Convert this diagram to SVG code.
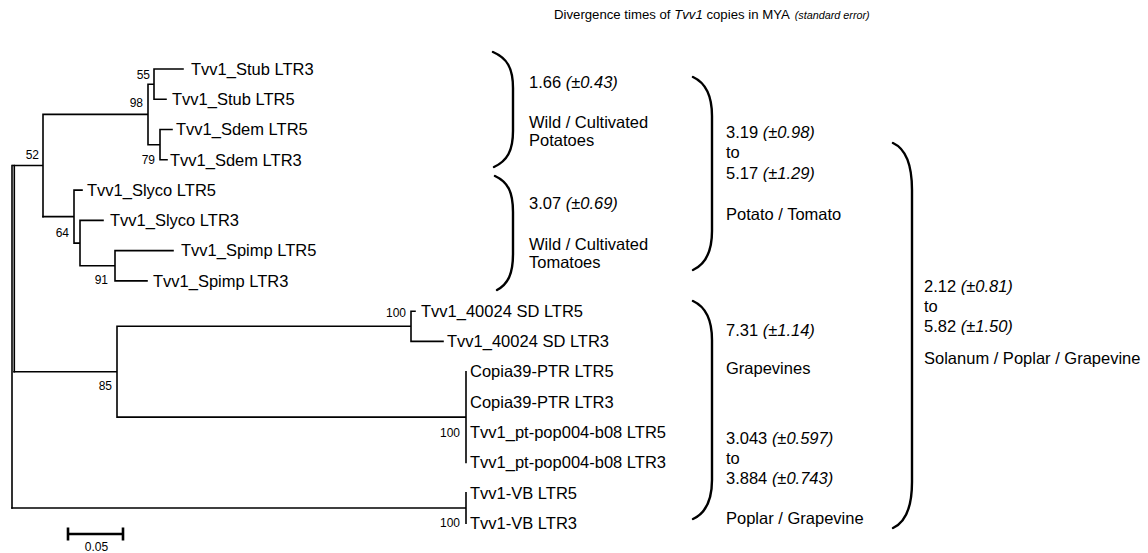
<svg xmlns="http://www.w3.org/2000/svg" width="1148" height="553" viewBox="0 0 1148 553">
<style>
text{font-family:"Liberation Sans",Arial,Helvetica,sans-serif;fill:#000}
.leaf{font-size:16.5px}
.bs{font-size:12px;text-anchor:end}
.r{font-size:16.5px}
.i{font-style:italic}
.br{fill:none;stroke:#000;stroke-width:2.4;stroke-linecap:round}
.e{fill:none;stroke:#000;stroke-width:1.6;stroke-linecap:square}
</style>
<rect width="1148" height="553" fill="#fff"/>
<g id="title">
<text x="554" y="19" style="font-size:13.2px">Divergence times of <tspan class="i">Tvv1</tspan> copies in MYA <tspan class="i" dx="2" style="font-size:10.8px">(standard error)</tspan></text>
</g>
<g id="connectors">
<path class="e" d="M12,165.5V508 M14.3,165.5V371.7"/>
<path class="e" d="M13,165.5H43 M43,114.4V216.6 M43,114.4H148 M148,84.2V144.7 M148,84.2H154 M154,69V99.3 M154,69H183 M154,99.3H166 M148,144.7H160 M160,129.5V159.8 M160,129.5H172 M160,159.8H167"/>
<path class="e" d="M43,216.6H74 M74,190.1V243.1 M74,190.1H82 M74,243.1H80 M80,220.4V265.8 M80,220.4H103 M80,265.8H115 M115,250.6V280.9 M115,250.6H173 M115,280.9H147"/>
<path class="e" d="M14,371.7H117 M117,326.3V417.1 M117,326.3H411 M411,311.2V341.4 M411,311.2H415 M411,341.4H443 M117,417.1H466 M466,371.7V462.5"/>
<path class="e" d="M12,508H466 M466,492.8V523.1"/>
<path d="M68,534H123 M68,527.5V540.5 M123,527.5V540.5" fill="none" stroke="#000" stroke-width="2.6"/>
</g>
<g id="tree-labels">
<text class="leaf" x="191" y="74.8">Tvv1_Stub LTR3</text>
<text class="leaf" x="172" y="105">Tvv1_Stub LTR5</text>
<text class="leaf" x="176" y="135.3">Tvv1_Sdem LTR5</text>
<text class="leaf" x="170" y="165.5">Tvv1_Sdem LTR3</text>
<text class="leaf" x="87" y="195.8">Tvv1_Slyco LTR5</text>
<text class="leaf" x="110" y="226.1">Tvv1_Slyco LTR3</text>
<text class="leaf" x="181" y="256.4">Tvv1_Spimp LTR5</text>
<text class="leaf" x="153" y="286.6">Tvv1_Spimp LTR3</text>
<text class="leaf" x="421" y="316.9">Tvv1_40024 SD LTR5</text>
<text class="leaf" x="447" y="347.1">Tvv1_40024 SD LTR3</text>
<text class="leaf" x="470" y="377.4">Copia39-PTR LTR5</text>
<text class="leaf" x="470" y="407.7">Copia39-PTR LTR3</text>
<text class="leaf" x="470" y="438">Tvv1_pt-pop004-b08 LTR5</text>
<text class="leaf" x="470" y="468.2">Tvv1_pt-pop004-b08 LTR3</text>
<text class="leaf" x="470" y="498.5">Tvv1-VB LTR5</text>
<text class="leaf" x="470" y="528.8">Tvv1-VB LTR3</text>
</g>
<g id="support">
<text class="bs" x="150" y="79">55</text>
<text class="bs" x="143" y="106.5">98</text>
<text class="bs" x="155" y="164">79</text>
<text class="bs" x="39" y="159">52</text>
<text class="bs" x="69" y="237">64</text>
<text class="bs" x="108" y="284">91</text>
<text class="bs" x="406" y="317">100</text>
<text class="bs" x="112" y="390">85</text>
<text class="bs" x="460" y="437">100</text>
<text class="bs" x="460" y="527">100</text>
<text x="96.5" y="551" style="font-size:12px;text-anchor:middle">0.05</text>
</g>
<g id="brace-potatoes">
<path class="br" d="M493,52 C507,58 513,68 513,88 L513,131 C513,151 507,161 494,167"/>
<text class="r" x="529" y="87.5">1.66 <tspan class="i">(±0.43)</tspan></text>
<text class="r" x="529" y="127.5">Wild / Cultivated</text>
<text class="r" x="529" y="145.5">Potatoes</text>
</g>
<g id="brace-tomatoes">
<path class="br" d="M495,176 C508,182 513,192 513,212 L513,254 C513,274 508,284 497,290"/>
<text class="r" x="529" y="209">3.07 <tspan class="i">(±0.69)</tspan></text>
<text class="r" x="529" y="249.5">Wild / Cultivated</text>
<text class="r" x="529" y="268">Tomatoes</text>
</g>
<g id="brace-potato-tomato">
<path class="br" d="M693,77 C706,83 712,96 712,116 L712,231 C712,251 706,264 693,270"/>
<text class="r" x="726" y="138">3.19 <tspan class="i">(±0.98)</tspan></text>
<text class="r" x="726" y="158">to</text>
<text class="r" x="726" y="179">5.17 <tspan class="i">(±1.29)</tspan></text>
<text class="r" x="726" y="219.5">Potato / Tomato</text>
</g>
<g id="brace-grapevine-poplar">
<path class="br" d="M693,301 C706,307 712,320 712,340 L712,480 C712,500 706,513 693,519"/>
<text class="r" x="726" y="335.5">7.31 <tspan class="i">(±1.14)</tspan></text>
<text class="r" x="726" y="373.5">Grapevines</text>
<text class="r" x="726" y="443.5">3.043 <tspan class="i">(±0.597)</tspan></text>
<text class="r" x="726" y="463.5">to</text>
<text class="r" x="726" y="483.5">3.884 <tspan class="i">(±0.743)</tspan></text>
<text class="r" x="726" y="523.5">Poplar / Grapevine</text>
</g>
<g id="brace-all">
<path class="br" d="M893,143 C906,149 912,164 912,190 L912,482 C912,507 906,522 893,528"/>
<text class="r" x="924" y="291.5">2.12 <tspan class="i">(±0.81)</tspan></text>
<text class="r" x="924" y="311.5">to</text>
<text class="r" x="924" y="332">5.82 <tspan class="i">(±1.50)</tspan></text>
<text class="r" x="924" y="363.5">Solanum / Poplar / Grapevine</text>
</g>
</svg>
